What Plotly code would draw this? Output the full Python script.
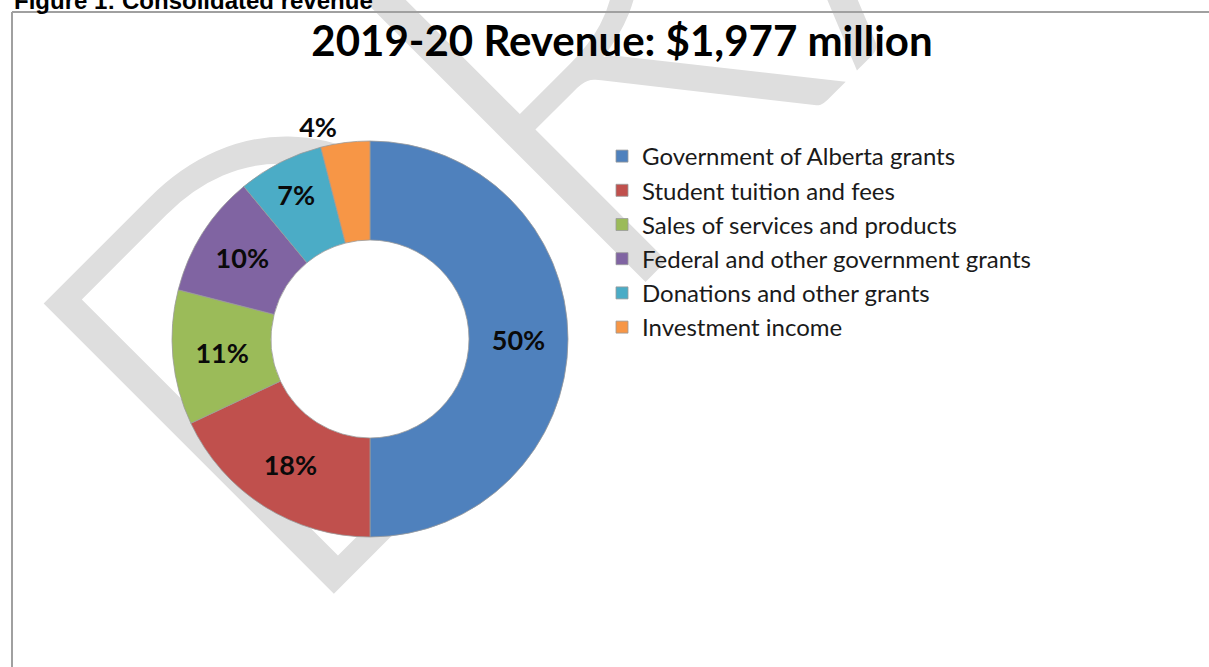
import plotly.graph_objects as go

# Revenue composition, 2019-20 (share of total, %)
categories = [
    "Government of Alberta grants",
    "Student tuition and fees",
    "Sales of services and products",
    "Federal and other government grants",
    "Donations and other grants",
    "Investment income",
]
shares = [50, 18, 11, 10, 7, 4]
colors = ["#4F81BD", "#C0504D", "#9BBB59", "#8064A2", "#4BACC6", "#F79646"]
label_positions = ["inside", "inside", "inside", "inside", "inside", "outside"]

W, H = 1209, 667
BODY_FONT = "Lato"

fig = go.Figure(
    go.Pie(
        labels=categories,
        values=shares,
        sort=False,
        direction="clockwise",
        rotation=0,
        hole=0.5,
        marker=dict(colors=colors, line=dict(color="#9a9a9a", width=0.8)),
        texttemplate="%{value}%",
        textposition=label_positions,
        insidetextorientation="horizontal",
        textfont=dict(family=BODY_FONT, size=27, color="#0a0a0a", weight="bold"),
        domain=dict(x=[172 / W, 568 / W], y=[1 - 537 / H, 1 - 141 / H]),
        showlegend=True,
    )
)

# DRAFT watermark, drawn beneath the chart
fig.add_shape(
    type="rect",
    xref="paper", yref="paper",
    x0=0.632, x1=0.652, y0=1.254, y1=1.276,
    line=dict(width=0),
    fillcolor="rgba(0,0,0,0)",
    layer="below",
    label=dict(
        text="DRAFT",
        textangle=-45,
        textposition="middle center",
        font=dict(family="Lato", size=580, color="#dedede", weight=300),
    ),
)

# frame around the figure body
fig.add_shape(type="line", xref="paper", yref="paper",
              x0=12 / W, x1=1.0, y0=1 - 12 / H, y1=1 - 12 / H,
              line=dict(color="#a0a0a0", width=2), layer="above")
fig.add_shape(type="line", xref="paper", yref="paper",
              x0=12 / W, x1=12 / W, y0=0, y1=1 - 12 / H,
              line=dict(color="#a0a0a0", width=2), layer="above")

# figure caption above the frame
fig.add_annotation(
    text="<b>Figure 1: Consolidated revenue</b>",
    xref="paper", yref="paper", x=12 / W, y=1.0,
    xanchor="left", yanchor="middle", showarrow=False,
    font=dict(family="Liberation Sans", size=24, color="#000000"),
)

fig.update_layout(
    width=W,
    height=H,
    margin=dict(l=0, r=0, t=0, b=0),
    paper_bgcolor="white",
    plot_bgcolor="white",
    title=dict(
        text="2019-20 Revenue: $1,977 million",
        x=622 / W, y=1 - 41 / H, xanchor="center", yanchor="middle",
        font=dict(family=BODY_FONT, size=42, color="#000000", weight="bold"),
    ),
    legend=dict(
        x=602 / W, y=1 - 134 / H, xanchor="left", yanchor="top",
        font=dict(family=BODY_FONT, size=24, color="#1a1a1a"),
        bgcolor="rgba(0,0,0,0)",
        traceorder="normal",
    ),
)

fig.write_html("out.html")
